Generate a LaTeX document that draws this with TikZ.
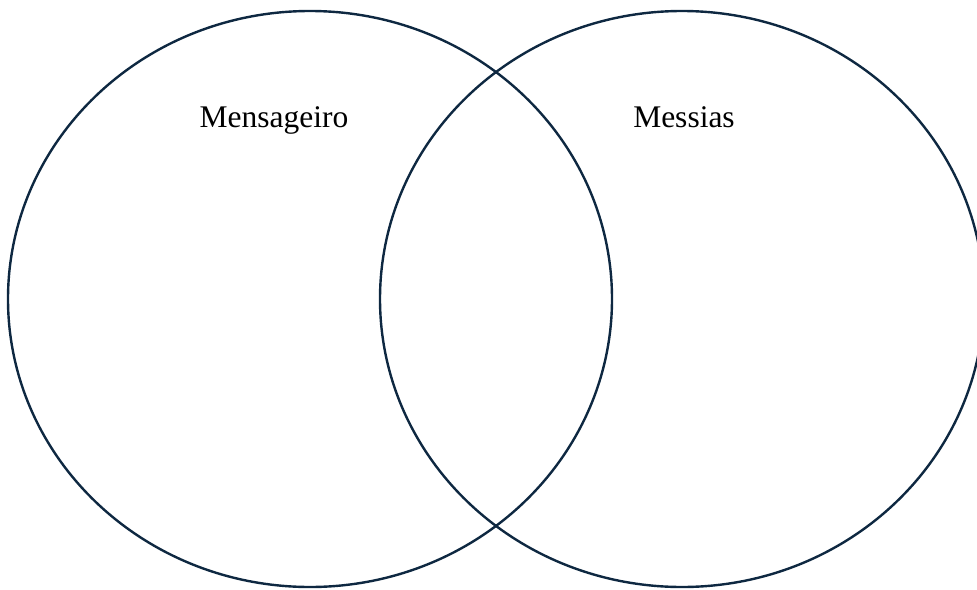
\documentclass[tikz,border=0pt]{standalone}
\usepackage{fontspec}
\setmainfont{Liberation Serif}
\definecolor{navy}{HTML}{0E2841}
\begin{document}
\begin{tikzpicture}[x=1pt,y=-1pt,
  ring/.style={draw=navy,line width=2.4pt},
  lbl/.style={font=\fontsize{31.5}{36}\selectfont,inner sep=0pt,anchor=base}]
\useasboundingbox (0,0) rectangle (977,589);
\begin{scope}
\clip (0,0) rectangle (977,589);
\draw[ring] (310,299) ellipse [x radius=302, y radius=288];
\draw[ring] (682,299) ellipse [x radius=302, y radius=288];
\end{scope}
\node[lbl] (m1) at (274,127) {Mensageiro};
\node[lbl] (m2) at (684,127) {Messias};
\end{tikzpicture}
\end{document}
